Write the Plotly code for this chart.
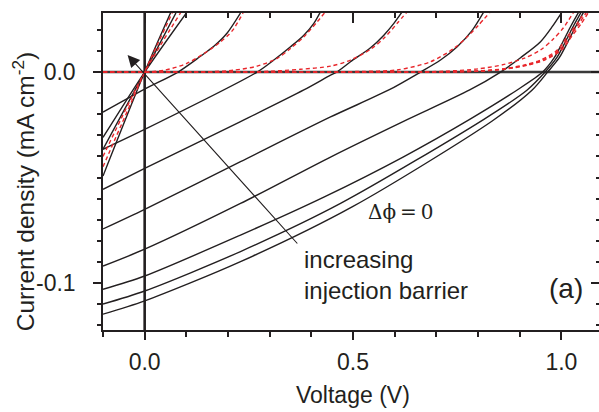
import plotly.graph_objects as go

# ---------------- data (V in volts, J in mA cm^-2) ----------------
# black: illuminated J-V curves, from large injection barrier (steep, through origin) to  Δϕ = 0
s1_v = [-0.1, 0.0, 0.062]
s1_j = [-0.0493, 0.0, 0.028]
s2_v = [-0.1, 0.0, 0.075]
s2_j = [-0.0366, 0.0, 0.028]
s3_v = [-0.1, 0.0, 0.10]
s3_j = [-0.031, 0.0, 0.028]

b1_v = [-0.1, 0.0, 0.08, 0.134, 0.166, 0.198, 0.23]
b1_j = [-0.019, -0.0081, 0.0, 0.0075, 0.0122, 0.0185, 0.028]
b2_v = [-0.1, 0.0, 0.27, 0.31, 0.35, 0.382, 0.406, 0.422]
b2_j = [-0.0366, -0.0272, 0.0, 0.0057, 0.012, 0.0175, 0.0231, 0.0286]
b3_v = [-0.1, 0.0, 0.23, 0.382, 0.446, 0.461, 0.494, 0.542, 0.574, 0.598, 0.618]
b3_j = [-0.0556, -0.0457, -0.0235, -0.0085, -0.0015, 0.0, 0.0049, 0.0115, 0.0175, 0.0231, 0.0286]
b4_v = [-0.1, 0.0, 0.23, 0.446, 0.586, 0.662, 0.71, 0.75, 0.785, 0.814]
b4_j = [-0.0744, -0.0651, -0.0425, -0.0213, -0.0085, 0.0, 0.0057, 0.012, 0.0195, 0.0286]
b5_v = [-0.1, 0.0, 0.23, 0.446, 0.62, 0.78, 0.854, 0.902, 0.95, 0.978, 1.002]
b5_j = [-0.092, -0.084, -0.0623, -0.0403, -0.0235, -0.0085, 0.0, 0.0068, 0.0144, 0.0215, 0.0286]
b6_v = [-0.1, 0.0, 0.23, 0.43, 0.62, 0.782, 0.894, 0.955, 0.983, 1.004, 1.022, 1.042]
b6_j = [-0.103, -0.0967, -0.0773, -0.0593, -0.0403, -0.0222, -0.0085, 0.0, 0.0068, 0.0145, 0.0215, 0.0286]
b7_v = [-0.1, 0.0, 0.23, 0.47, 0.814, 0.918, 0.961, 0.989, 1.01, 1.028, 1.048]
b7_j = [-0.110, -0.1038, -0.0851, -0.0623, -0.0224, -0.0085, 0.0, 0.0068, 0.0145, 0.0215, 0.0286]
b8_v = [-0.1, 0.0, 0.23, 0.5, 0.834, 0.93, 0.967, 0.995, 1.016, 1.034, 1.054]
b8_j = [-0.1148, -0.1085, -0.0899, -0.0637, -0.0232, -0.0085, 0.0, 0.0068, 0.0145, 0.0215, 0.0286]

# red dashed: dark curves
rs1_v = [-0.1, 0.0, 0.066]
rs1_j = [-0.0449, 0.0, 0.028]
rs2_v = [-0.1, 0.0, 0.086]
rs2_j = [-0.040, 0.0, 0.028]
r1_v = [-0.1, 0.0, 0.05, 0.10, 0.14, 0.18, 0.21, 0.236]
r1_j = [0.0, 0.0, 0.0010, 0.0040, 0.0085, 0.0140, 0.0195, 0.028]
r2_v = [-0.1, 0.1, 0.16, 0.214, 0.27, 0.318, 0.35, 0.382, 0.414, 0.434]
r2_j = [0.0, 0.0, 0.0002, 0.0009, 0.0028, 0.0065, 0.0112, 0.0167, 0.0238, 0.0286]
r3_v = [-0.1, 0.2, 0.3, 0.374, 0.446, 0.494, 0.542, 0.574, 0.606, 0.63]
r3_j = [0.0, 0.0, 0.0004, 0.0013, 0.0028, 0.0057, 0.0108, 0.016, 0.0231, 0.0286]
r4_v = [-0.1, 0.4, 0.52, 0.606, 0.686, 0.742, 0.774, 0.80, 0.83]
r4_j = [0.0, 0.0, 0.0003, 0.001, 0.0049, 0.0112, 0.0167, 0.022, 0.0286]
r5_v = [-0.1, 0.6, 0.72, 0.8, 0.86, 0.91, 0.95, 0.98, 1.005, 1.03]
r5_j = [0.0, 0.0, 0.0004, 0.0015, 0.0035, 0.0065, 0.0105, 0.0155, 0.021, 0.0286]
r6_v = [-0.1, 0.7, 0.8, 0.86, 0.91, 0.95, 0.99, 1.014, 1.038, 1.056]
r6_j = [0.0, 0.0, 0.0005, 0.0015, 0.0033, 0.0057, 0.0104, 0.0167, 0.0231, 0.0286]
r7_v = [-0.1, 0.705, 0.805, 0.865, 0.915, 0.955, 0.995, 1.019, 1.043, 1.061]
r7_j = [0.0, 0.0, 0.0005, 0.0015, 0.0033, 0.0057, 0.0104, 0.0167, 0.0231, 0.0286]
r8_v = [-0.1, 0.71, 0.81, 0.87, 0.92, 0.96, 1.0, 1.024, 1.048, 1.066]
r8_j = [0.0, 0.0, 0.0005, 0.0015, 0.0033, 0.0057, 0.0104, 0.0167, 0.0231, 0.0286]

x_tickvals = [0.0, 0.5, 1.0]
x_ticktext = ["0.0", "0.5", "1.0"]
y_tickvals = [-0.1, 0.0]
y_ticktext = ["-0.1", "0.0"]
x_range = [-0.1, 1.0903]
y_range = [-0.1223, 0.028]

black_curves = [(s1_v, s1_j), (s2_v, s2_j), (s3_v, s3_j), (b1_v, b1_j), (b2_v, b2_j),
                (b3_v, b3_j), (b4_v, b4_j), (b5_v, b5_j), (b6_v, b6_j), (b7_v, b7_j), (b8_v, b8_j)]
red_curves = [(rs1_v, rs1_j), (rs2_v, rs2_j), (r1_v, r1_j), (r2_v, r2_j), (r3_v, r3_j),
              (r4_v, r4_j), (r5_v, r5_j), (r6_v, r6_j), (r7_v, r7_j), (r8_v, r8_j)]

INK = "#231f20"
RED = "#e8262b"
FONT = "Liberation Sans, Arial, Helvetica, sans-serif"
PAD = "\u00a0\u00a0"  # gap between y tick labels and the axis

fig = go.Figure()
for v, j in black_curves:
    fig.add_trace(go.Scatter(x=v, y=j, mode="lines", line=dict(color=INK, width=1.4, shape="spline", smoothing=0.8),
                             showlegend=False, hoverinfo="skip"))
for v, j in red_curves:
    fig.add_trace(go.Scatter(x=v, y=j, mode="lines",
                             line=dict(color=RED, width=1.4, dash="4px,3px", shape="spline", smoothing=0.8),
                             showlegend=False, hoverinfo="skip"))
# helper trace for mirrored (top/right) axes
fig.add_trace(go.Scatter(x=[], y=[], xaxis="x2", yaxis="y2", showlegend=False, hoverinfo="skip"))

# zero lines
fig.add_shape(type="line", xref="paper", yref="y", x0=0, x1=1, y0=0, y1=0,
              line=dict(color="#3a3a3a", width=2.4), layer="below")
fig.add_shape(type="line", xref="x", yref="paper", x0=0, x1=0, y0=0, y1=1,
              line=dict(color=INK, width=2.6), layer="below")

tickfont = dict(family=FONT, size=23, color=INK)
fig.update_layout(
    width=599, height=412,
    margin=dict(l=103, r=0, t=13, b=82),
    plot_bgcolor="white", paper_bgcolor="white",
    hovermode=False,
    xaxis=dict(range=x_range, showgrid=False, zeroline=False, showline=True, linewidth=2, linecolor=INK,
               ticks="outside", ticklen=8, tickwidth=2, tickcolor=INK,
               tickmode="array", tickvals=x_tickvals, ticktext=x_ticktext, tickfont=tickfont,
               ticklabelstandoff=2,
               minor=dict(tickmode="linear", tick0=0, dtick=0.1, ticks="outside", ticklen=5, tickwidth=1.5,
                          tickcolor=INK, showgrid=False)),
    xaxis2=dict(range=x_range, overlaying="x", side="top", anchor="y", showgrid=False, zeroline=False,
                showline=True, linewidth=2, linecolor=INK, ticks="inside", ticklen=10, tickwidth=2,
                tickcolor=INK, tickmode="array", tickvals=x_tickvals, showticklabels=False,
                minor=dict(tickmode="linear", tick0=0, dtick=0.1, ticks="inside", ticklen=5, tickwidth=1.5,
                           tickcolor=INK, showgrid=False)),
    yaxis=dict(range=y_range, showgrid=False, zeroline=False, showline=True, linewidth=2, linecolor=INK,
               ticks="outside", ticklen=8, tickwidth=2, tickcolor=INK,
               tickmode="array", tickvals=y_tickvals, ticktext=[t + PAD for t in y_ticktext],
               tickfont=tickfont,
               minor=dict(tickmode="linear", tick0=0, dtick=0.01, ticks="outside", ticklen=4, tickwidth=1.5,
                          tickcolor=INK, showgrid=False)),
    yaxis2=dict(range=y_range, overlaying="y", side="right", anchor="x", showgrid=False, zeroline=False,
                showline=False, ticks="inside", ticklen=8, tickwidth=2, tickcolor=INK,
                tickmode="array", tickvals=y_tickvals, showticklabels=False,
                minor=dict(tickmode="linear", tick0=0, dtick=0.01, ticks="inside", ticklen=3, tickwidth=1.5,
                           tickcolor=INK, showgrid=False)),
)

# axis titles
fig.add_annotation(text="Voltage (V)", xref="paper", yref="paper", x=0.505, y=-0.205,
                   xanchor="center", yanchor="middle", showarrow=False,
                   font=dict(family=FONT, size=23, color=INK))
fig.add_annotation(text="Current density (mA cm<sup>-2</sup>)", xref="paper", yref="paper",
                   x=-0.161, y=0.435, xanchor="center", yanchor="middle", textangle=-90, showarrow=False,
                   font=dict(family=FONT, size=24.5, color=INK))

# arrow: increasing injection barrier
fig.add_annotation(x=-0.041, y=0.0081, ax=0.3696, ay=-0.082, xref="x", yref="y", axref="x", ayref="y",
                   showarrow=True, arrowhead=2, arrowsize=2.2, arrowwidth=1.1, arrowcolor=INK, text="")
fig.add_annotation(text="increasing<br>injection barrier", x=0.378, y=-0.0962, xref="x", yref="y",
                   xanchor="left", yanchor="middle", align="left", showarrow=False,
                   font=dict(family=FONT, size=24, color=INK))
fig.add_annotation(text="Δϕ\u2009=\u20090", x=0.614, y=-0.0664, xref="x", yref="y",
                   xanchor="center", yanchor="middle", showarrow=False,
                   font=dict(family="DejaVu Serif, Liberation Serif, serif", size=20, color=INK))
fig.add_annotation(text="(a)", x=1.012, y=-0.1024, xref="x", yref="y",
                   xanchor="center", yanchor="middle", showarrow=False,
                   font=dict(family=FONT, size=28, color=INK))

fig.write_html("out.html", config={"displayModeBar": False},
               post_script="document.body.style.margin='0';")
